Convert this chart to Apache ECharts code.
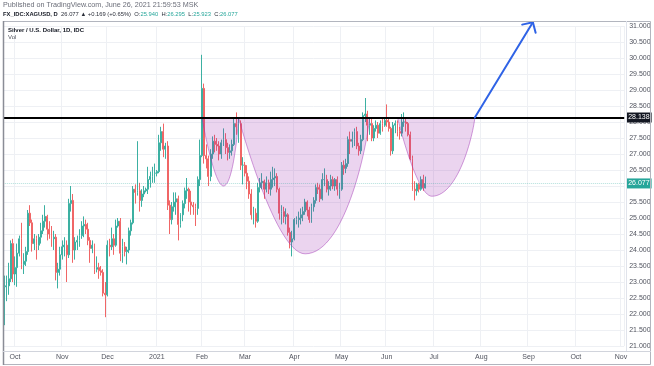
<!DOCTYPE html>
<html><head><meta charset="utf-8">
<script src="https://cdn.jsdelivr.net/npm/echarts/dist/echarts.min.js"></script>
<style>html,body{margin:0;padding:0;background:#fff}#c{width:654px;height:366px}</style>
</head><body><div id="c"></div><script>
// ---- categories: daily trading bars (weekdays) starting 2020-09-24 ----
const firstBar = [2020, 8, 24];
const barCount = 289;
const monthNames = ['Jan','Feb','Mar','Apr','May','Jun','Jul','Aug','Sep','Oct','Nov','Dec'];
const dates = [];
(function(){
  let t = Date.UTC(firstBar[0], firstBar[1], firstBar[2]);
  while (dates.length < barCount) {
    const d = new Date(t);
    const wd = d.getUTCDay();
    if (wd !== 0 && wd !== 6) dates.push(d.toISOString().slice(0, 10));
    t += 86400000;
  }
})();

// ---- OHLC ----
const opens = [22.50,22.85,22.88,23.10,24.20,23.25,23.45,23.90,24.35,23.55,
 23.65,23.95,25.15,24.85,24.20,24.35,24.15,24.40,24.60,24.90,
 25.05,24.65,24.50,24.35,24.40,23.30,23.40,23.85,24.10,24.15,
 23.85,25.45,25.55,24.00,24.25,24.30,24.45,24.75,24.80,24.65,
 24.30,24.05,24.15,23.40,23.45,23.35,23.30,22.65,22.60,24.15,
 24.10,24.35,24.15,24.75,24.90,23.90,24.10,23.95,24.00,24.60,
 24.85,25.90,25.80,25.85,25.55,25.75,25.85,25.90,26.20,26.30,
 26.40,26.40,26.45,27.35,27.70,27.15,27.25,25.40,24.95,25.35,
 25.50,25.60,24.80,25.10,25.45,25.85,25.90,25.50,25.40,25.35,
 25.30,26.20,26.95,29.05,26.95,26.85,26.30,27.00,27.40,27.30,
 27.25,27.00,27.35,27.45,27.20,27.05,27.10,27.30,27.95,27.85,
 27.95,26.65,26.65,26.40,26.15,25.75,25.10,25.15,24.90,25.95,
 26.10,26.15,25.90,26.10,25.90,26.20,26.25,26.30,25.90,25.15,
 25.20,25.05,25.10,24.55,24.25,24.35,24.95,24.95,25.00,25.10,
 25.20,25.50,25.25,24.95,25.35,25.55,25.95,25.90,25.60,26.20,
 26.20,25.90,26.00,26.20,26.00,26.20,25.90,25.90,26.65,26.55,
 26.70,27.45,27.40,27.45,27.70,27.25,27.10,27.45,28.20,28.25,
 27.90,27.95,27.50,27.80,27.90,27.65,27.95,27.90,28.05,28.00,
 27.80,27.10,27.90,27.95,27.70,27.65,28.00,28.00,27.95,27.60,
 26.85,25.90,25.85,26.05,25.90,26.20,25.94];
const closes = [22.85,22.88,23.10,24.20,23.25,23.45,23.90,24.35,23.55,23.65,
 23.95,25.15,24.85,24.20,24.35,24.15,24.40,24.60,24.90,25.05,
 24.65,24.50,24.35,24.40,23.30,23.40,23.85,24.10,24.15,23.85,
 25.45,25.55,24.00,24.25,24.30,24.45,24.75,24.80,24.65,24.30,
 24.05,24.15,23.40,23.45,23.35,23.30,22.65,22.60,24.15,24.10,
 24.35,24.15,24.75,24.90,23.90,24.10,23.95,24.00,24.60,24.85,
 25.90,25.80,25.85,25.55,25.75,25.85,25.90,26.20,26.30,26.40,
 26.40,26.45,27.35,27.70,27.15,27.25,25.40,24.95,25.35,25.50,
 25.60,24.80,25.10,25.45,25.85,25.90,25.50,25.40,25.35,25.30,
 26.20,26.95,29.05,26.95,26.85,26.30,27.00,27.40,27.30,27.25,
 27.00,27.35,27.45,27.20,27.05,27.10,27.30,27.95,27.85,27.95,
 26.65,26.65,26.40,26.15,25.75,25.10,25.15,24.90,25.95,26.10,
 26.15,25.90,26.10,25.90,26.20,26.25,26.30,25.90,25.15,25.20,
 25.05,25.10,24.55,24.25,24.35,24.95,24.95,25.00,25.10,25.20,
 25.50,25.25,24.95,25.35,25.55,25.95,25.90,25.60,26.20,26.20,
 25.90,26.00,26.20,26.00,26.20,25.90,25.90,26.65,26.55,26.70,
 27.45,27.40,27.45,27.70,27.25,27.10,27.45,28.20,28.25,27.90,
 27.95,27.50,27.80,27.90,27.65,27.95,27.90,28.05,28.00,27.80,
 27.10,27.90,27.95,27.70,27.65,28.00,28.00,27.95,27.60,26.85,
 25.90,25.85,26.05,25.90,26.20,25.95,26.077];
const highs = [23.20,23.20,23.60,24.30,24.35,23.80,24.20,24.45,24.85,23.90,
 24.10,25.25,25.40,24.95,24.50,24.45,24.50,24.85,25.10,25.40,
 25.10,24.90,24.75,24.60,24.50,23.60,24.10,24.30,24.40,24.30,
 25.60,26.00,25.75,24.40,24.45,24.65,24.90,25.05,24.95,24.85,
 24.40,24.30,24.20,23.80,23.60,23.50,23.40,23.00,24.30,24.35,
 24.70,24.50,24.95,25.00,25.00,24.35,24.25,24.10,24.70,24.95,
 26.00,26.05,27.40,26.10,25.90,26.00,25.95,26.60,26.45,26.60,
 26.70,26.50,27.60,27.85,27.95,27.35,27.40,25.55,25.50,25.80,
 25.80,25.70,25.15,25.55,25.95,26.25,25.95,25.85,25.50,25.45,
 26.30,27.45,30.10,29.20,27.30,26.95,27.15,27.55,27.60,27.50,
 27.40,27.45,27.80,27.65,27.35,27.30,27.45,28.10,28.30,28.15,
 28.05,26.90,26.75,26.65,26.30,25.90,25.35,25.30,26.10,26.25,
 26.40,26.20,26.30,26.20,26.45,26.60,26.55,26.40,25.95,25.40,
 25.35,25.30,25.15,24.70,24.60,25.00,25.05,25.20,25.30,25.35,
 25.60,25.55,25.35,25.45,25.65,26.05,26.10,26.05,26.40,26.55,
 26.35,26.15,26.35,26.30,26.25,26.30,26.10,26.75,26.80,26.85,
 27.55,27.70,27.70,27.80,27.85,27.35,27.60,28.30,28.75,28.35,
 28.15,28.10,27.90,28.05,28.00,28.05,28.10,28.15,28.55,28.10,
 27.85,28.00,28.05,28.05,27.85,28.25,28.30,28.10,28.00,27.70,
 26.95,26.15,26.10,26.10,26.30,26.35,26.295];
const lows = [21.65,22.40,22.60,23.00,23.00,22.90,22.85,23.80,23.40,23.25,
 23.50,23.85,24.75,23.95,24.00,23.70,24.00,24.20,24.50,24.70,
 24.30,24.35,24.10,24.00,23.05,22.80,23.20,23.70,23.80,23.00,
 23.75,25.20,23.60,23.70,24.00,24.10,24.35,24.40,24.50,24.15,
 23.60,23.90,23.25,23.30,23.10,23.20,22.55,21.90,22.55,23.80,
 24.00,23.85,24.10,24.70,23.65,23.60,23.80,23.55,23.90,24.45,
 24.80,25.45,25.70,25.20,25.35,25.65,25.80,25.75,25.95,26.10,
 26.10,26.30,26.40,27.10,26.90,26.85,25.25,24.50,24.80,25.20,
 25.10,24.30,24.70,24.90,25.30,25.60,25.20,25.10,25.10,24.75,
 25.10,26.00,26.90,26.70,26.55,26.00,26.15,26.85,27.05,27.10,
 26.80,26.85,27.25,27.00,26.80,26.85,26.95,27.25,27.60,27.35,
 26.50,26.05,26.30,25.90,25.60,24.95,24.80,24.70,24.85,25.80,
 25.90,25.60,25.80,25.75,25.70,25.95,26.00,25.80,24.95,24.80,
 24.85,24.80,24.45,24.05,23.80,24.30,24.80,24.70,24.80,24.90,
 25.10,25.05,24.85,24.85,25.20,25.45,25.75,25.50,25.55,26.00,
 25.80,25.70,25.85,25.90,25.85,25.70,25.60,25.85,26.35,26.40,
 26.60,27.00,27.20,27.25,27.15,26.95,27.00,27.40,28.00,27.40,
 27.60,27.40,27.40,27.70,27.50,27.60,27.70,27.85,27.85,27.70,
 26.95,27.00,27.65,27.55,27.45,27.55,27.85,27.70,27.55,26.80,
 25.85,25.55,25.70,25.80,25.85,25.85,25.923];

// ---- levels / annotations ----
const resistance = 28.138;
const lastPrice = 26.077;
const yMin = 21, yMax = 31, yStep = 0.5;
// cup drawings: bar index of left rim, bottom, right rim; bottom price
const cupStart  = [92, 109, 183];
const cupBottom = [102, 140, 199];
const cupEnd    = [109, 170, 219];
const cupLow    = [26.00, 23.88, 25.68];
// projection arrow: [bar index, price]
const arrowFrom = [219, 28.138];
const arrowTo   = [246, 31.12];

// ---- texts ----
const headerLine1 = 'Published on TradingView.com, June 26, 2021 21:59:53 MSK';
const symbolTitle = 'Silver / U.S. Dollar, 1D, IDC';

const candleData = closes.map((c, i) => [opens[i], c, lows[i], highs[i]]);
const monthStart = dates.map((d, i) => i > 0 && d.slice(5, 7) !== dates[i - 1].slice(5, 7));
const cupData = cupStart.map((s, i) => [s, cupBottom[i], cupEnd[i], resistance, cupLow[i]]);

function bez(p0, p1, p2, p3, n, out) {
  for (let k = 0; k <= n; k++) {
    const t = k / n, u = 1 - t;
    out.push([
      u*u*u*p0[0] + 3*u*u*t*p1[0] + 3*u*t*t*p2[0] + t*t*t*p3[0],
      u*u*u*p0[1] + 3*u*u*t*p1[1] + 3*u*t*t*p2[1] + t*t*t*p3[1]
    ]);
  }
}
function renderCup(params, api) {
  const T = api.coord([api.value(0), api.value(3)]);
  const B = api.coord([api.value(1), api.value(4)]);
  const R = api.coord([api.value(2), api.value(3)]);
  const pts = [];
  const dxl = B[0] - T[0];
  bez(T, [T[0], T[1]], [B[0] - 0.45 * dxl, B[1]], B, 30, pts);
  const dxr = R[0] - B[0], dyr = B[1] - R[1];
  bez(B, [B[0] + 0.6 * dxr, B[1]], [R[0] - 0.05 * dxr, R[1] + 0.25 * dyr], R, 30, pts);
  return {
    type: 'polygon',
    shape: { points: pts },
    style: { fill: 'rgba(156,39,176,0.2)', stroke: 'rgba(156,39,176,0.45)', lineWidth: 1 }
  };
}
function renderArrow(params, api) {
  const a = api.coord([api.value(0), api.value(2)]);
  const b = api.coord([api.value(1), api.value(3)]);
  const ang = Math.atan2(a[1] - b[1], a[0] - b[0]);
  const L = 11, spread = 0.8;
  const h1 = [b[0] + L * Math.cos(ang + spread), b[1] + L * Math.sin(ang + spread)];
  const h2 = [b[0] + L * Math.cos(ang - spread), b[1] + L * Math.sin(ang - spread)];
  const st = { stroke: '#2f63e6', lineWidth: 2, fill: null, lineCap: 'round', lineJoin: 'round' };
  return {
    type: 'group',
    children: [
      { type: 'line', shape: { x1: a[0], y1: a[1], x2: b[0], y2: b[1] }, style: st },
      { type: 'polyline', shape: { points: [h1, b, h2] }, style: st }
    ]
  };
}

const chart = echarts.init(document.getElementById('c'), null, { renderer: 'canvas' });
const gridColor = '#eef0f4';
chart.setOption({
  animation: false,
  backgroundColor: '#ffffff',
  grid: { left: 3.2, right: 29.8, top: 26, bottom: 20, containLabel: false },
  xAxis: {
    type: 'category',
    data: dates,
    boundaryGap: true,
    axisLine: { show: false },
    axisTick: { show: false },
    axisLabel: {
      interval: (i) => monthStart[i],
      hideOverlap: false,
      formatter: (v, i) => {
        if (!monthStart[i]) return '';
        return v.slice(5, 7) === '01' ? v.slice(0, 4) : monthNames[+v.slice(5, 7) - 1];
      },
      fontSize: 7, color: '#50535e', margin: 8, fontFamily: 'Liberation Sans'
    },
    splitLine: { show: true, interval: (i) => monthStart[i], lineStyle: { color: gridColor, width: 1 } }
  },
  yAxis: {
    type: 'value', position: 'right', min: yMin, max: yMax, interval: yStep, scale: true,
    axisLine: { show: false }, axisTick: { show: false },
    axisLabel: { formatter: (v) => v.toFixed(3), fontSize: 7, color: '#50535e', margin: 5, fontFamily: 'Liberation Sans' },
    splitLine: { show: true, lineStyle: { color: gridColor, width: 1 } }
  },
  series: [
    {
      type: 'candlestick', z: 2,
      data: candleData,
      barWidth: '65%',
      itemStyle: { color: '#3cb0a2', color0: '#f06666', borderColor: '#3cb0a2', borderColor0: '#f06666', borderWidth: 1 },
      markLine: {
        silent: true, symbol: ['none', 'none'], animation: false, z: 6,
        data: [
          { yAxis: lastPrice, lineStyle: { color: 'rgba(38,166,154,0.35)', type: 'dotted', width: 1 },
            label: { show: true, position: 'end', distance: 2, formatter: lastPrice.toFixed(3), color: '#fff',
                     backgroundColor: '#26a69a', padding: [2, 2, 1, 2], fontSize: 7, fontFamily: 'Liberation Sans' } },
          { yAxis: resistance, lineStyle: { color: '#000000', type: 'solid', width: 2 },
            label: { show: true, position: 'end', distance: 2, formatter: resistance.toFixed(3), color: '#fff',
                     backgroundColor: '#131722', padding: [2, 2, 1, 2], fontSize: 7, fontFamily: 'Liberation Sans' } }
        ]
      }
    },
    {
      type: 'custom', z: 3, silent: true,
      renderItem: renderCup,
      encode: { x: [0, 1, 2], y: [3, 4] },
      data: cupData
    },
    {
      type: 'custom', z: 7, silent: true, clip: false,
      renderItem: renderArrow,
      encode: { x: [0, 1], y: [2, 3] },
      data: [[arrowFrom[0], arrowTo[0], arrowFrom[1], arrowTo[1]]]
    }
  ],
  graphic: [
    { type: 'rect', z: 10, silent: true, shape: { x: 3.5, y: 21.5, width: 647, height: 343 },
      style: { fill: null, stroke: '#b2b5be', lineWidth: 1 } },
    { type: 'line', z: 10, silent: true, shape: { x1: 3.5, y1: 21, x2: 3.5, y2: 365 },
      style: { stroke: '#8a8d96', lineWidth: 1.5 } },
    { type: 'line', z: 10, silent: true, shape: { x1: 3, y1: 351.5, x2: 651, y2: 351.5 },
      style: { stroke: '#d1d4dc', lineWidth: 1 } },
    { type: 'line', z: 10, silent: true, shape: { x1: 626.5, y1: 21, x2: 626.5, y2: 351 },
      style: { stroke: '#e0e3eb', lineWidth: 1 } },
    { type: 'text', z: 10, silent: true, x: 3, y: 5,
      style: { text: headerLine1, fill: '#6a6d78', font: '7.2px "Liberation Sans"', verticalAlign: 'middle' } },
    { type: 'text', z: 10, silent: true, x: 3, y: 14,
      style: {
        text: '{b|FX_IDC:XAGUSD, D} {d|26.077 ▲ +0.169 (+0.65%)} {d|O:}{g|25.940} {d|H:}{g|26.295} {d|L:}{g|25.923} {d|C:}{g|26.077}',
        verticalAlign: 'middle',
        rich: {
          b: { font: 'bold 5.8px "Liberation Sans"', fill: '#131722' },
          d: { font: '5.8px "Liberation Sans"', fill: '#2a2e39' },
          g: { font: '5.8px "Liberation Sans"', fill: '#26a69a' }
        }
      } },
    { type: 'text', z: 10, silent: true, x: 8, y: 30,
      style: { text: symbolTitle, fill: '#131722', font: 'bold 6px "Liberation Sans"', verticalAlign: 'middle' } },
    { type: 'text', z: 10, silent: true, x: 8, y: 37.5,
      style: { text: 'Vol', fill: '#50535e', font: '6px "Liberation Sans"', verticalAlign: 'middle' } }
  ]
});
</script></body></html>
